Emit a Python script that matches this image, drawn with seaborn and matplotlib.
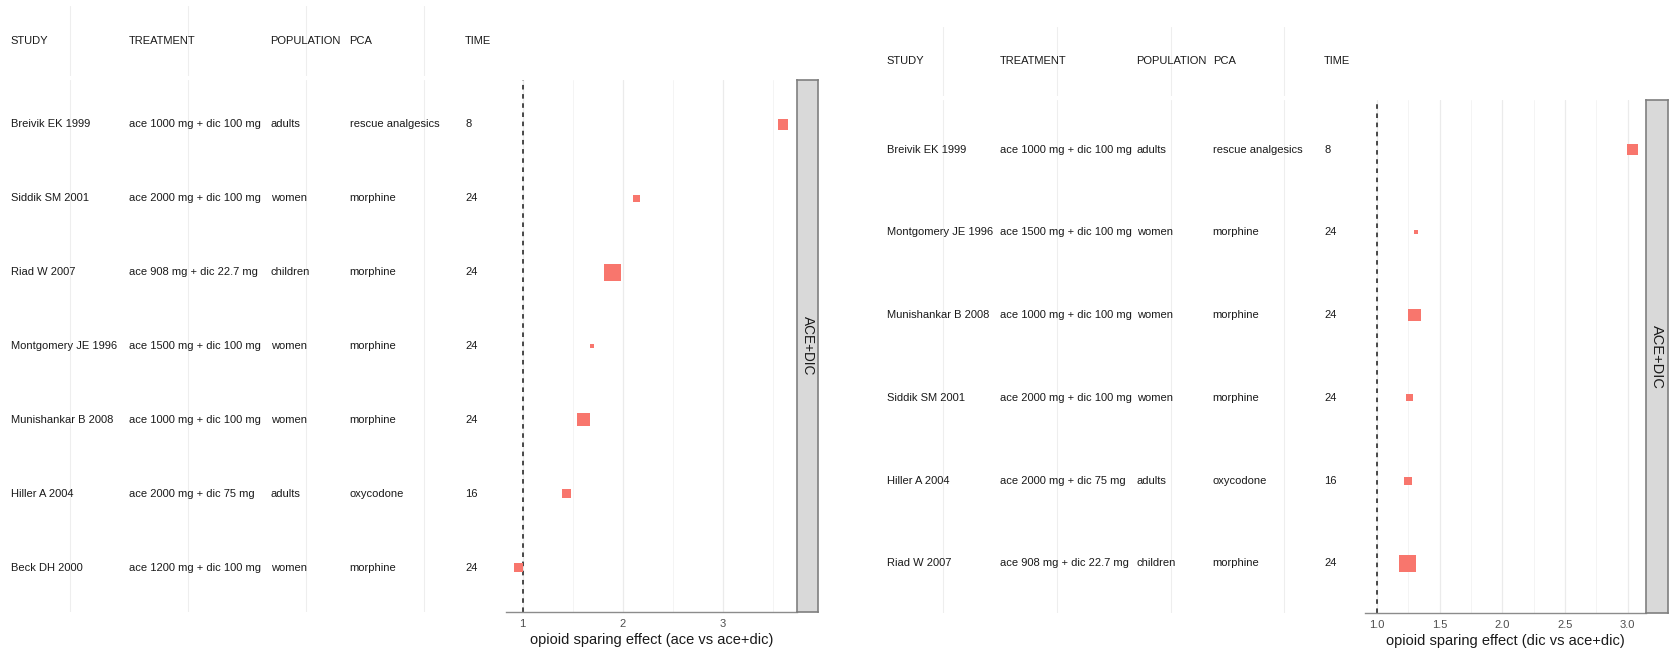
import numpy as np
import pandas as pd
import matplotlib
matplotlib.use('Agg')
import matplotlib.pyplot as plt
from matplotlib.ticker import MultipleLocator
import seaborn as sns

# ---- data: ace vs ace+dic (left) ----
left_study = ['Breivik EK 1999', 'Siddik SM 2001', 'Riad W 2007', 'Montgomery JE 1996',
              'Munishankar B 2008', 'Hiller A 2004', 'Beck DH 2000']
left_treatment = ['ace 1000 mg + dic 100 mg', 'ace 2000 mg + dic 100 mg', 'ace 908 mg + dic 22.7 mg',
                  'ace 1500 mg + dic 100 mg', 'ace 1000 mg + dic 100 mg', 'ace 2000 mg + dic 75 mg',
                  'ace 1200 mg + dic 100 mg']
left_population = ['adults', 'women', 'children', 'women', 'women', 'adults', 'women']
left_pca = ['rescue analgesics', 'morphine', 'morphine', 'morphine', 'morphine', 'oxycodone', 'morphine']
left_time = ['8', '24', '24', '24', '24', '16', '24']
left_effect = [3.60, 2.14, 1.90, 1.69, 1.61, 1.44, 0.96]
left_weight = [14.8, 6.0, 35.5, 2.0, 20.7, 9.9, 11.0]

# ---- data: dic vs ace+dic (right) ----
right_study = ['Breivik EK 1999', 'Montgomery JE 1996', 'Munishankar B 2008', 'Siddik SM 2001',
               'Hiller A 2004', 'Riad W 2007']
right_treatment = ['ace 1000 mg + dic 100 mg', 'ace 1500 mg + dic 100 mg', 'ace 1000 mg + dic 100 mg',
                   'ace 2000 mg + dic 100 mg', 'ace 2000 mg + dic 75 mg', 'ace 908 mg + dic 22.7 mg']
right_population = ['adults', 'women', 'women', 'women', 'adults', 'children']
right_pca = ['rescue analgesics', 'morphine', 'morphine', 'morphine', 'oxycodone', 'morphine']
right_time = ['8', '24', '24', '24', '16', '24']
right_effect = [3.04, 1.31, 1.30, 1.26, 1.25, 1.245]
right_weight = [17.7, 2.3, 22.5, 7.2, 9.4, 42.3]

headers = ['STUDY', 'TREATMENT', 'POPULATION', 'PCA', 'TIME']
col_pos = [0.5, 1.5, 2.7, 3.37, 4.35]

sns.set_style('white')
plt.rcParams['font.family'] = ['Liberation Sans', 'DejaVu Sans']

W, H = 1671, 651
fig = plt.figure(figsize=(W / 100, H / 100), dpi=100)
fig.patch.set_facecolor('white')


def px_axes(x0, y0, x1, y1):
    return fig.add_axes([x0 / W, 1 - y1 / H, (x1 - x0) / W, (y1 - y0) / H])


def table_axes(ax, xlim):
    ax.set_xlim(*xlim)
    for s in ax.spines.values():
        s.set_visible(False)
    ax.set_xticks([1, 2, 3, 4])
    ax.set_yticks([])
    ax.tick_params(axis='x', length=0, labelbottom=False)
    ax.grid(axis='x', color='#EEEEEE', lw=0.8)
    ax.set_axisbelow(True)


def draw_table(hdr_box, row_box, cols, n):
    xlim = (0.407, 4.56)
    hax = px_axes(*hdr_box)
    table_axes(hax, xlim)
    hax.set_ylim(0, 1)
    for x, h in zip(col_pos, headers):
        hax.text(x, 0.5, h, va='center', ha='left', fontsize=8, color='#1A1A1A')
    rax = px_axes(*row_box)
    table_axes(rax, xlim)
    rax.set_ylim(n + 0.6, 0.4)
    for x, col in zip(col_pos, cols):
        for i, val in enumerate(col):
            rax.text(x, i + 1, val, va='center', ha='left', fontsize=8, color='#1A1A1A')


def draw_forest(box, strip_box, effect, weight, xlim, major, minor, xlabel, strip_fs):
    ax = px_axes(*box)
    n = len(effect)
    df = pd.DataFrame({'effect': effect, 'row': np.arange(1, n + 1), 'weight': weight})
    ax.axvline(1, color='#1A1A1A', lw=1.1, ls=(0, (3, 3)), zorder=2)
    sns.scatterplot(data=df, x='effect', y='row', size='weight', sizes=(8, 150),
                    size_norm=(min(weight), max(weight)), marker='s', color='#F8766D',
                    linewidth=0, legend=False, ax=ax, zorder=3)
    ax.set_xlim(*xlim)
    ax.set_ylim(n + 0.6, 0.4)
    ax.xaxis.set_major_locator(MultipleLocator(major))
    ax.xaxis.set_minor_locator(MultipleLocator(minor))
    ax.grid(which='major', axis='x', color='#EBEBEB', lw=0.9)
    ax.grid(which='minor', axis='x', color='#F2F2F2', lw=0.6)
    ax.set_axisbelow(True)
    for side in ['top', 'right', 'left']:
        ax.spines[side].set_visible(False)
    ax.spines['bottom'].set_color('#8C8C8C')
    ax.spines['bottom'].set_linewidth(1.0)
    ax.set_yticks([])
    ax.set_ylabel('')
    ax.tick_params(axis='x', which='major', length=3, width=0.8, color='#8C8C8C',
                   labelsize=8, labelcolor='#4D4D4D', pad=2)
    ax.tick_params(axis='x', which='minor', length=0)
    ax.set_xlabel(xlabel, fontsize=10.5, color='#1A1A1A', labelpad=3)
    if major == 0.5:
        ax.xaxis.set_major_formatter(matplotlib.ticker.FormatStrFormatter('%.1f'))

    sax = px_axes(*strip_box)
    sax.set_facecolor('#D9D9D9')
    sax.set_xticks([])
    sax.set_yticks([])
    for s in sax.spines.values():
        s.set_color('#7F7F7F')
        s.set_linewidth(1.2)
    sax.text(0.5, 0.5, 'ACE+DIC', rotation=270, ha='center', va='center',
             fontsize=strip_fs, color='#1A1A1A', transform=sax.transAxes)


# left figure
draw_table((0, 6, 490, 76), (0, 80, 490, 612),
           [left_study, left_treatment, left_population, left_pca, left_time], len(left_study))
draw_forest((506, 80, 797, 612), (797, 80, 818, 612), left_effect, left_weight,
            (0.833, 3.74), 1, 0.5, 'opioid sparing effect (ace vs ace+dic)', 9.8)

# right figure
draw_table((876, 27, 1348, 96), (876, 100, 1348, 613),
           [right_study, right_treatment, right_population, right_pca, right_time], len(right_study))
draw_forest((1365, 100, 1646, 613), (1646, 100, 1668, 613), right_effect, right_weight,
            (0.905, 3.147), 0.5, 0.25, 'opioid sparing effect (dic vs ace+dic)', 10.5)

fig.savefig('out.png', dpi=100, facecolor='white')
